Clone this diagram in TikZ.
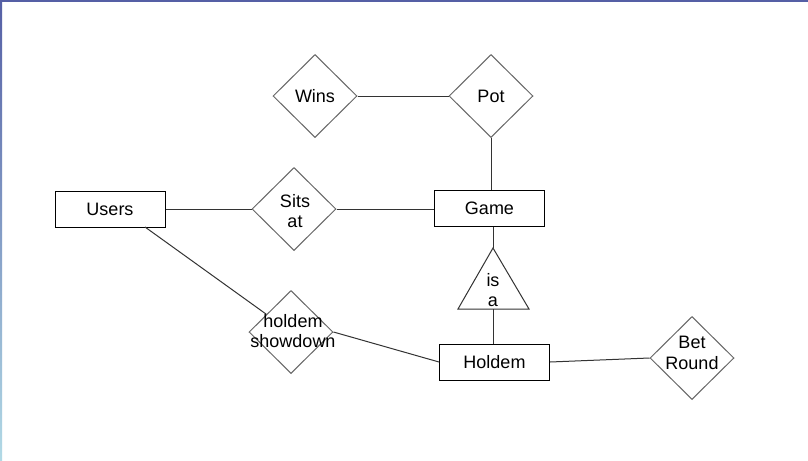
\documentclass[tikz,border=0pt]{standalone}
\usepackage{fontspec}
\setmainfont{Liberation Sans}
\usetikzlibrary{shapes.geometric}
\definecolor{framedark}{RGB}{85,95,165}
\definecolor{framelight}{RGB}{178,218,230}
\tikzset{
  every node/.style={font=\fontsize{13.5}{15.5}\selectfont, align=center, inner sep=0pt},
  entity/.style={draw=black, line width=0.75pt, rectangle, minimum width=110*0.75pt, minimum height=36*0.75pt},
  relation/.style={draw=black!60, line width=0.75pt, diamond, minimum width=84*0.75pt, minimum height=83*0.75pt},
  conn/.style={draw=black!80, line width=0.75pt},
}
\begin{document}
\begin{tikzpicture}[x=0.75pt, y=-0.75pt]
\useasboundingbox (0,0) rectangle (808,461);
\fill[white] (0,0) rectangle (808,461);
\fill[framedark] (0,0) rectangle (808,2);
\shade[top color=framedark, bottom color=framelight] (0,0) rectangle (2,461);

\node[relation] (wins) at (315,96) {};
\node (winst) at (315,96) {Wins};
\node[relation] (pot) at (491,96) {};
\node (pott) at (491,96) {Pot};
\node[entity] (game) at (489.5,208) {Game};
\node[entity] (users) at (110,209) {Users};
\node[relation] (sits) at (294,209) {};
\node (sitst) at (295,211) {Sits\\at};
\node[entity] (holdem) at (494.5,362) {Holdem};
\node[relation] (show) at (291,332) {};
\node (showt) at (293,331) {holdem\\showdown};
\node[relation] (bet) at (692,358) {};
\node (bett) at (692,353) {Bet\\Round};

\coordinate (isatop) at (493,248);
\coordinate (isaleft) at (458,309);
\coordinate (isaright) at (529,309);
\coordinate (isabot) at (493,309);
\draw[line width=0.75pt, draw=black!80] (isatop) -- (isaleft) -- (isaright) -- cycle;
\node (isa) at (493,290) {is\\a};

\coordinate (ustart) at (145,227);

\draw[conn] (wins.east) -- (pot.west);
\draw[conn] (pot.south) -- (pot.south |- game.north);
\draw[conn] (users.east) -- (sits.west);
\draw[conn] (sits.east) -- (game.west |- sits.east);
\draw[conn] (isatop |- game.south) -- (isatop);
\draw[conn] (isabot) -- (isabot |- holdem.north);
\draw[conn] (ustart) -- (show);
\draw[conn] (show.east) -- (holdem.west);
\draw[conn] (holdem.east) -- (bet.west);
\end{tikzpicture}
\end{document}
